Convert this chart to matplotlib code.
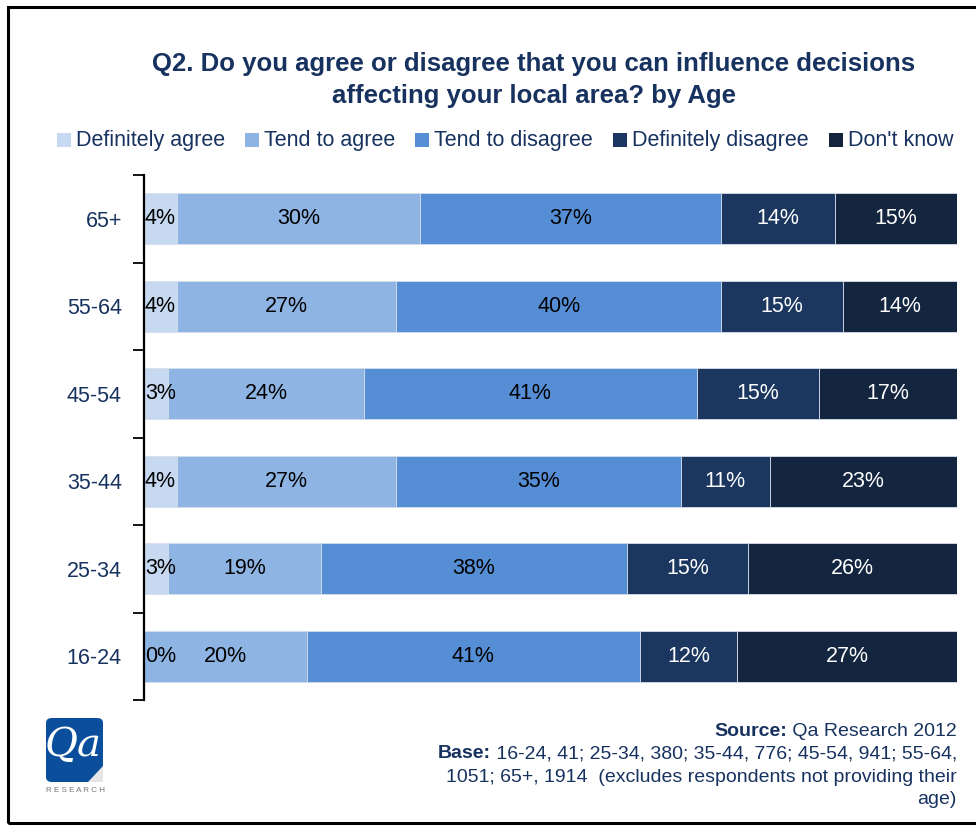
import matplotlib
matplotlib.use("Agg")
import matplotlib.pyplot as plt
from matplotlib.patches import Rectangle, FancyBboxPatch, Polygon
import numpy as np

plt.rcParams['font.family'] = ['Liberation Sans', 'DejaVu Sans']

# Survey data: Q2 by age group (percent of respondents)
age_groups = ["65+", "55-64", "45-54", "35-44", "25-34", "16-24"]
responses = ["Definitely agree", "Tend to agree", "Tend to disagree",
             "Definitely disagree", "Don't know"]
definitely_agree = [4, 4, 3, 4, 3, 0]
tend_to_agree = [30, 27, 24, 27, 19, 20]
tend_to_disagree = [37, 40, 41, 35, 38, 41]
definitely_disagree = [14, 15, 15, 11, 15, 12]
dont_know = [15, 14, 17, 23, 26, 27]

colors = ["#C6D9F1", "#8EB4E3", "#558ED5", "#1B375F", "#13253F"]
label_colors = ["black", "black", "black", "white", "white"]
navy = "#17325F"

W, H = 976, 826
fig = plt.figure(figsize=(W / 100, H / 100), dpi=100)

# Outer frame
fig.patches.append(Rectangle((8 / W, 3 / H), 1.2, (819 - 3) / H,
                             transform=fig.transFigure, fill=False,
                             edgecolor="black", linewidth=2.2))

ax = fig.add_axes([144 / W, (H - 700) / H, (957 - 144) / W, 525 / H])

series = np.array([definitely_agree, tend_to_agree, tend_to_disagree,
                   definitely_disagree, dont_know], dtype=float)
totals = series.sum(axis=0)
shares = series / totals * 100  # 100% stacked
y = np.arange(len(age_groups))
left = np.zeros(len(age_groups))
for i, name in enumerate(responses):
    ax.barh(y, shares[i], left=left, height=0.58, color=colors[i],
            edgecolor="#D5DEEA", linewidth=0.6, label=name)
    for j in range(len(age_groups)):
        cx = left[j] + shares[i][j] / 2
        cx = max(cx, 2.0)
        ax.text(cx, y[j], f"{int(series[i][j])}%", ha="center", va="center",
                fontsize=15.5, color=label_colors[i])
    left += shares[i]

ax.set_xlim(0, 100)
ax.set_ylim(len(age_groups) - 0.5, -0.5)
ax.set_xticks([])
ax.set_yticks(np.arange(-0.5, len(age_groups), 1.0))
ax.set_yticklabels([])
ax.set_yticks(y, minor=True)
ax.set_yticklabels(age_groups, minor=True, fontsize=15.5, color=navy)
ax.tick_params(axis="y", which="major", length=8, width=1.3, color="black")
ax.tick_params(axis="y", which="minor", length=0, pad=16)
for s in ["top", "right", "bottom"]:
    ax.spines[s].set_visible(False)
ax.spines["left"].set_linewidth(1.6)

# Title
fig.text(534 / W, 1 - 80 / H,
         "Q2. Do you agree or disagree that you can influence decisions\n"
         "affecting your local area? by Age",
         ha="center", va="center", fontsize=18.5, fontweight="bold",
         color=navy, linespacing=1.45)

fig.canvas.draw()
renderer = fig.canvas.get_renderer()

# Legend row: colour square + label, laid out on a shared baseline
leg_fs = 15.5
sq, gap_in, gap_out = 14, 5, 20
leg_y = 140
widths = []
for name in responses:
    t = fig.text(0, 0, name, fontsize=leg_fs)
    widths.append(t.get_window_extent(renderer).width)
    t.remove()
total_w = sum(sq + gap_in + w for w in widths) + gap_out * (len(responses) - 1)
x = 505 - total_w / 2
for name, col, w in zip(responses, colors, widths):
    fig.patches.append(Rectangle((x / W, 1 - (leg_y + sq / 2) / H), sq / W,
                                 sq / H, transform=fig.transFigure,
                                 facecolor=col, edgecolor="none"))
    fig.text((x + sq + gap_in) / W, 1 - (leg_y + 6) / H, name,
             ha="left", va="baseline", fontsize=leg_fs, color=navy)
    x += sq + gap_in + w + gap_out

# Source notes, right aligned with bold lead words
x_right = 957 / W
note_lines = [
    ("Source:", " Qa Research 2012", 731),
    ("Base:", " 16-24, 41; 25-34, 380; 35-44, 776; 45-54, 941; 55-64,", 754),
    ("", "1051; 65+, 1914  (excludes respondents not providing their", 777),
    ("", "age)", 800),
]
for bold, rest, ypx in note_lines:
    t = fig.text(x_right, 1 - ypx / H, rest, ha="right", va="center",
                 fontsize=14, color=navy)
    if bold:
        bb = t.get_window_extent(renderer)
        fig.text(bb.x0 / W, 1 - ypx / H, bold, ha="right", va="center",
                 fontsize=14, color=navy, fontweight="bold")

# Qa Research logo
logo = FancyBboxPatch((46 / W, 1 - 782 / H), 57 / W, 64 / H,
                      boxstyle="round,pad=0,rounding_size=0.006",
                      transform=fig.transFigure, facecolor="#0B4F9C",
                      edgecolor="none")
fig.patches.append(logo)
fig.patches.append(Polygon([(103 / W, 1 - 766 / H), (103 / W, 1 - 782 / H),
                            (88 / W, 1 - 782 / H)], closed=True,
                           transform=fig.transFigure, facecolor="#E6E6E6",
                           edgecolor="none"))
fig.text(73 / W, 1 - 746 / H, "Qa", ha="center", va="center", fontsize=29,
         color="white", family="DejaVu Serif", style="italic")
fig.text(75 / W, 1 - 790 / H, "R E S E A R C H", ha="center", va="center",
         fontsize=5.8, color="#777777")

fig.savefig("out.png", dpi=100)
